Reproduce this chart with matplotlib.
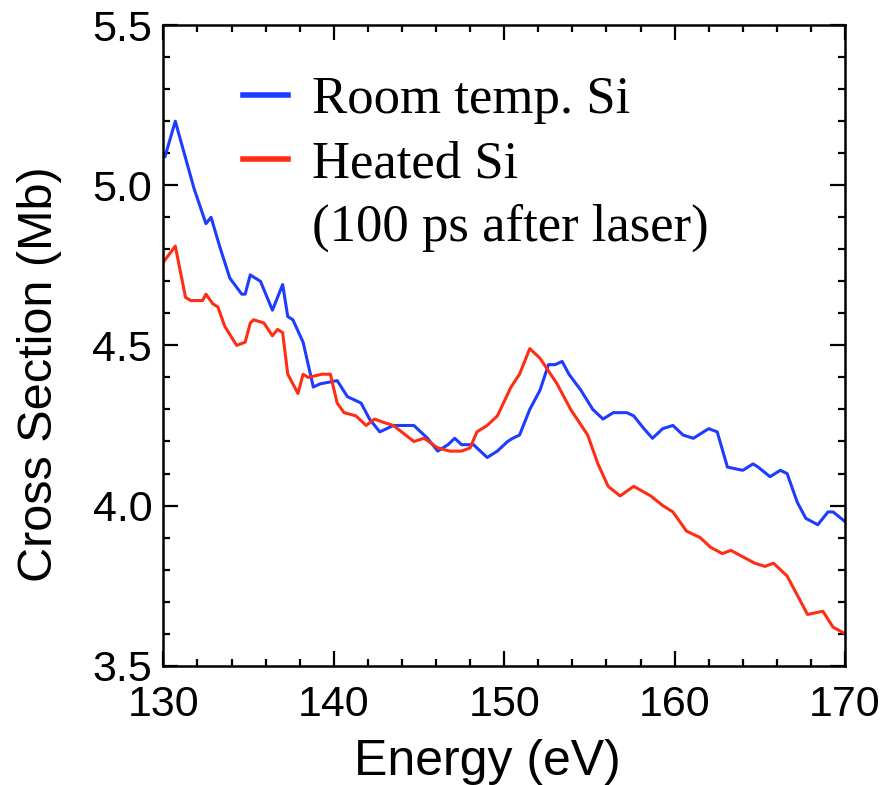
#! /usr/bin/env python3
# -*- coding: utf-8 -*-

import matplotlib
matplotlib.use('Agg')
import matplotlib.pyplot as plt
from matplotlib.lines import Line2D
from matplotlib.ticker import MultipleLocator

# Room temperature Si
room_energy = [130.1, 130.7, 131.8, 132.5, 132.8, 133.3, 133.9, 134.6, 134.8, 135.1,
               135.7, 136.4, 137.0, 137.3, 137.6, 138.2, 138.8, 139.2, 140.2, 140.8,
               141.6, 142.1, 142.7, 143.5, 144.7, 145.5, 146.1, 146.7, 147.1, 147.5,
               148.2, 149.0, 149.6, 150.2, 150.5, 150.9, 151.5, 152.1, 152.6, 153.0,
               153.4, 153.8, 154.5, 155.2, 155.8, 156.4, 157.2, 157.6, 158.2, 158.7,
               159.3, 159.9, 160.5, 161.1, 162.0, 162.5, 163.1, 164.0, 164.6, 164.9,
               165.6, 166.2, 166.6, 167.2, 167.7, 168.4, 169.0, 169.3, 170.0]
room_sigma = [5.09, 5.20, 4.99, 4.88, 4.90, 4.81, 4.71, 4.66, 4.66, 4.72,
              4.70, 4.61, 4.69, 4.59, 4.58, 4.51, 4.37, 4.38, 4.39, 4.34,
              4.32, 4.27, 4.23, 4.25, 4.25, 4.21, 4.17, 4.19, 4.21, 4.19,
              4.19, 4.15, 4.17, 4.20, 4.21, 4.22, 4.30, 4.36, 4.44, 4.44,
              4.45, 4.41, 4.36, 4.30, 4.27, 4.29, 4.29, 4.28, 4.24, 4.21,
              4.24, 4.25, 4.22, 4.21, 4.24, 4.23, 4.12, 4.11, 4.13, 4.12,
              4.09, 4.11, 4.10, 4.01, 3.96, 3.94, 3.98, 3.98, 3.95]

# Heated Si, 100 ps after laser
hot_energy = [130.0, 130.7, 131.3, 131.6, 132.3, 132.5, 132.9, 133.2, 133.6, 134.3,
              134.8, 135.1, 135.3, 135.9, 136.4, 136.7, 137.0, 137.3, 137.9, 138.2,
              138.5, 139.3, 139.8, 140.2, 140.6, 141.3, 141.9, 142.4, 142.9, 143.5,
              144.7, 145.3, 146.1, 146.8, 147.5, 148.0, 148.4, 149.0, 149.6, 150.4,
              150.9, 151.5, 152.1, 153.1, 153.9, 154.9, 155.5, 156.1, 156.8, 157.6,
              158.6, 159.3, 159.9, 160.7, 161.5, 162.1, 162.8, 163.3, 164.0, 164.7,
              165.3, 165.8, 166.6, 167.2, 167.8, 168.7, 169.3, 170.0]
hot_sigma = [4.76, 4.81, 4.65, 4.64, 4.64, 4.66, 4.63, 4.62, 4.56, 4.50,
             4.51, 4.57, 4.58, 4.57, 4.53, 4.55, 4.54, 4.41, 4.35, 4.41,
             4.40, 4.41, 4.41, 4.32, 4.29, 4.28, 4.25, 4.27, 4.26, 4.25,
             4.20, 4.21, 4.18, 4.17, 4.17, 4.18, 4.23, 4.25, 4.28, 4.37,
             4.41, 4.49, 4.46, 4.38, 4.30, 4.22, 4.13, 4.06, 4.03, 4.06,
             4.03, 4.00, 3.98, 3.92, 3.90, 3.87, 3.85, 3.86, 3.84, 3.82,
             3.81, 3.82, 3.78, 3.72, 3.66, 3.67, 3.62, 3.60]

labels = ['Room temp. Si', 'Heated Si', '(100 ps after laser)']
blue = '#1e3cff'
red = '#ff2d14'


def main():
    fig = plt.figure(figsize=(8.83, 7.85), dpi=100)
    ax = fig.add_axes([0.185, 0.152, 0.772, 0.816])

    ax.plot(room_energy, room_sigma, color=blue, lw=2.2)
    ax.plot(hot_energy, hot_sigma, color=red, lw=2.2)

    ax.set_xlim(130, 170)
    ax.set_ylim(3.5, 5.5)
    ax.xaxis.set_major_locator(MultipleLocator(10))
    ax.xaxis.set_minor_locator(MultipleLocator(2))
    ax.yaxis.set_major_locator(MultipleLocator(0.5))
    ax.yaxis.set_minor_locator(MultipleLocator(0.1))
    ax.yaxis.set_major_formatter(plt.FormatStrFormatter('%.1f'))

    ax.tick_params(which='both', direction='in', top=True, right=True,
                   width=1.6, labelsize=31)
    ax.tick_params(which='major', length=11, pad=8)
    ax.tick_params(which='minor', length=5)
    ax.tick_params(axis='x', which='major', pad=14)
    for lab in ax.get_xticklabels() + ax.get_yticklabels():
        lab.set_family('Liberation Sans')
    for sp in ax.spines.values():
        sp.set_linewidth(1.8)

    ax.set_xlabel('Energy (eV)', family='Liberation Sans', fontsize=36)
    ax.set_ylabel('Cross Section (Mb)', family='Liberation Sans', fontsize=35)
    ax.xaxis.set_label_coords(0.475, -0.115)
    ax.yaxis.set_label_coords(-0.149, 0.455)

    handles = [Line2D([], [], color=blue, lw=4),
               Line2D([], [], color=red, lw=4),
               Line2D([], [], color='none', lw=4)]
    ax.legend(handles, labels, loc='upper left', bbox_to_anchor=(0.117, 0.92),
              frameon=False, borderpad=0, borderaxespad=0,
              handlelength=0.86, handletextpad=0.45, labelspacing=0.3,
              prop={'family': 'Liberation Serif', 'size': 38})

    fig.savefig('out.png', dpi=100)


if __name__ == '__main__':
    main()
